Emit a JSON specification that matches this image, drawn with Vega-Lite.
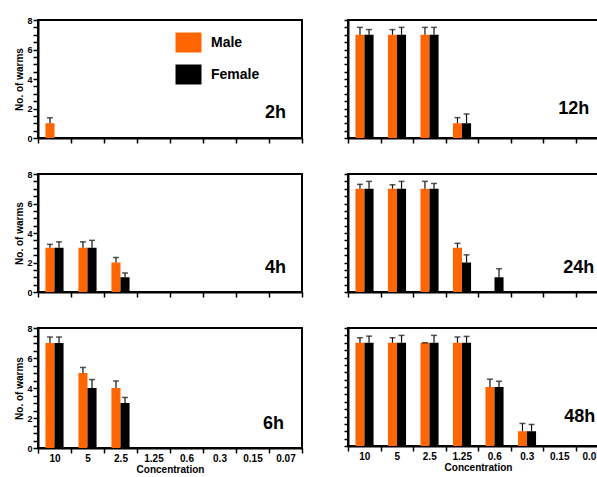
{
  "$schema": "https://vega.github.io/schema/vega-lite/v6.json",
  "background": "white",
  "padding": {"left": 13, "top": 15, "right": 0, "bottom": 0},
  "config": {
    "font": "Liberation Sans",
    "view": {"stroke": "black", "strokeWidth": 2},
    "axis": {"grid": false, "domainColor": "black", "domainWidth": 2, "tickColor": "black", "tickWidth": 1.5,
      "labelFont": "Liberation Sans", "labelFontWeight": "bold", "labelColor": "black",
      "titleFont": "Liberation Sans", "titleFontWeight": "bold", "titleColor": "black", "titleFontSize": 10},
    "legend": {"labelFont": "Liberation Sans", "labelFontWeight": "bold", "labelFontSize": 14, "labelColor": "black"}
  },
  "data": {"values": [
    {"time": "2h", "conc": "10", "sex": "Male", "value": 1, "hi": 1.37},
    {"time": "12h", "conc": "10", "sex": "Male", "value": 7, "hi": 7.5},
    {"time": "12h", "conc": "10", "sex": "Female", "value": 7, "hi": 7.35},
    {"time": "12h", "conc": "5", "sex": "Male", "value": 7, "hi": 7.35},
    {"time": "12h", "conc": "5", "sex": "Female", "value": 7, "hi": 7.5},
    {"time": "12h", "conc": "2.5", "sex": "Male", "value": 7, "hi": 7.5},
    {"time": "12h", "conc": "2.5", "sex": "Female", "value": 7, "hi": 7.5},
    {"time": "12h", "conc": "1.25", "sex": "Male", "value": 1, "hi": 1.38},
    {"time": "12h", "conc": "1.25", "sex": "Female", "value": 1, "hi": 1.63},
    {"time": "4h", "conc": "10", "sex": "Male", "value": 3, "hi": 3.23},
    {"time": "4h", "conc": "10", "sex": "Female", "value": 3, "hi": 3.4},
    {"time": "4h", "conc": "5", "sex": "Male", "value": 3, "hi": 3.4},
    {"time": "4h", "conc": "5", "sex": "Female", "value": 3, "hi": 3.5},
    {"time": "4h", "conc": "2.5", "sex": "Male", "value": 2, "hi": 2.34},
    {"time": "4h", "conc": "2.5", "sex": "Female", "value": 1, "hi": 1.29},
    {"time": "24h", "conc": "10", "sex": "Male", "value": 7, "hi": 7.3},
    {"time": "24h", "conc": "10", "sex": "Female", "value": 7, "hi": 7.5},
    {"time": "24h", "conc": "5", "sex": "Male", "value": 7, "hi": 7.27},
    {"time": "24h", "conc": "5", "sex": "Female", "value": 7, "hi": 7.5},
    {"time": "24h", "conc": "2.5", "sex": "Male", "value": 7, "hi": 7.5},
    {"time": "24h", "conc": "2.5", "sex": "Female", "value": 7, "hi": 7.36},
    {"time": "24h", "conc": "1.25", "sex": "Male", "value": 3, "hi": 3.3},
    {"time": "24h", "conc": "1.25", "sex": "Female", "value": 2, "hi": 2.52},
    {"time": "24h", "conc": "0.6", "sex": "Female", "value": 1, "hi": 1.58},
    {"time": "6h", "conc": "10", "sex": "Male", "value": 7, "hi": 7.4},
    {"time": "6h", "conc": "10", "sex": "Female", "value": 7, "hi": 7.4},
    {"time": "6h", "conc": "5", "sex": "Male", "value": 5, "hi": 5.37},
    {"time": "6h", "conc": "5", "sex": "Female", "value": 4, "hi": 4.56},
    {"time": "6h", "conc": "2.5", "sex": "Male", "value": 4, "hi": 4.47},
    {"time": "6h", "conc": "2.5", "sex": "Female", "value": 3, "hi": 3.37},
    {"time": "48h", "conc": "10", "sex": "Male", "value": 7, "hi": 7.34},
    {"time": "48h", "conc": "10", "sex": "Female", "value": 7, "hi": 7.45},
    {"time": "48h", "conc": "5", "sex": "Male", "value": 7, "hi": 7.34},
    {"time": "48h", "conc": "5", "sex": "Female", "value": 7, "hi": 7.5},
    {"time": "48h", "conc": "2.5", "sex": "Male", "value": 7, "hi": 7},
    {"time": "48h", "conc": "2.5", "sex": "Female", "value": 7, "hi": 7.5},
    {"time": "48h", "conc": "1.25", "sex": "Male", "value": 7, "hi": 7.39},
    {"time": "48h", "conc": "1.25", "sex": "Female", "value": 7, "hi": 7.43},
    {"time": "48h", "conc": "0.6", "sex": "Male", "value": 4, "hi": 4.53},
    {"time": "48h", "conc": "0.6", "sex": "Female", "value": 4, "hi": 4.39},
    {"time": "48h", "conc": "0.3", "sex": "Male", "value": 1, "hi": 1.53},
    {"time": "48h", "conc": "0.3", "sex": "Female", "value": 1, "hi": 1.46}
  ]},
  "columns": 2,
  "align": "each",
  "spacing": {"row": 24, "column": 38},
  "resolve": {"legend": {"color": "independent"}},
  "concat": [
    {
      "width": 264, "height": 118,
      "transform": [{"filter": "datum.time === '2h'"}],
      "layer": [
        {"mark": {"type": "bar"},
         "encoding": {
           "x": {"field": "conc", "type": "nominal", "sort": null, "scale": {"domain": ["10","5","2.5","1.25","0.6","0.3","0.15","0.07"], "paddingInner": 0, "paddingOuter": 0}, "axis": {"title": null, "labels": false, "tickBand": "extent", "tickSize": 5}},
           "xOffset": {"field": "sex", "type": "nominal", "sort": null, "scale": {"domain": ["Male","Female"], "paddingInner": 0, "paddingOuter": 0.82}},
           "y": {"field": "value", "type": "quantitative", "scale": {"domain": [0, 8]}, "axis": {"title": "No. of warms", "values": [0,0.5,1,1.5,2,2.5,3,3.5,4,4.5,5,5.5,6,6.5,7,7.5,8], "labelExpr": "datum.value % 2 === 0 ? format(datum.value, 'd') : ''", "labelOverlap": false, "tickSize": 5, "labelPadding": 1, "labelFontSize": 9, "titlePadding": 2}},
           "color": {"field": "sex", "type": "nominal", "sort": null, "scale": {"domain": ["Male","Female"], "range": ["#FF6600","#000000"]},
             "legend": {"title": null, "orient": "none", "legendX": 140, "legendY": 12, "symbolType": "M-1.3,-1H1.3V1H-1.3Z", "symbolSize": 400, "symbolStrokeWidth": 0.5, "rowPadding": 11, "labelOffset": 12, "padding": 0}}
         }},
        {"mark": {"type": "rule", "color": "#111", "strokeWidth": 1.2},
         "encoding": {
           "x": {"field": "conc", "type": "nominal", "sort": null},
           "xOffset": {"field": "sex", "type": "nominal", "sort": null},
           "y": {"field": "value", "type": "quantitative", "axis": {"title": "No. of warms", "values": [0,0.5,1,1.5,2,2.5,3,3.5,4,4.5,5,5.5,6,6.5,7,7.5,8], "labelExpr": "datum.value % 2 === 0 ? format(datum.value, 'd') : ''", "labelOverlap": false, "tickSize": 5, "labelPadding": 1, "labelFontSize": 9, "titlePadding": 2}},
           "y2": {"field": "hi"}
         }},
        {"mark": {"type": "tick", "color": "#111", "thickness": 1.5, "size": 6},
         "encoding": {
           "x": {"field": "conc", "type": "nominal", "sort": null},
           "xOffset": {"field": "sex", "type": "nominal", "sort": null},
           "y": {"field": "hi", "type": "quantitative", "axis": {"title": "No. of warms", "values": [0,0.5,1,1.5,2,2.5,3,3.5,4,4.5,5,5.5,6,6.5,7,7.5,8], "labelExpr": "datum.value % 2 === 0 ? format(datum.value, 'd') : ''", "labelOverlap": false, "tickSize": 5, "labelPadding": 1, "labelFontSize": 9, "titlePadding": 2}}
         }},
        {"data": {"values": [{"lbl": "2h"}]},
         "mark": {"type": "text", "fontSize": 18, "fontWeight": "bold", "color": "black", "dx": -10},
         "encoding": {"text": {"field": "lbl"}, "x": {"datum": "0.07"}, "y": {"datum": 1.7, "axis": {"title": "No. of warms", "values": [0,0.5,1,1.5,2,2.5,3,3.5,4,4.5,5,5.5,6,6.5,7,7.5,8], "labelExpr": "datum.value % 2 === 0 ? format(datum.value, 'd') : ''", "labelOverlap": false, "tickSize": 5, "labelPadding": 1, "labelFontSize": 9, "titlePadding": 2}}}}
      ]
    },
    {
      "width": 260, "height": 118,
      "transform": [{"filter": "datum.time === '12h'"}],
      "layer": [
        {"mark": {"type": "bar"},
         "encoding": {
           "x": {"field": "conc", "type": "nominal", "sort": null, "scale": {"domain": ["10","5","2.5","1.25","0.6","0.3","0.15","0.07"], "paddingInner": 0, "paddingOuter": 0}, "axis": {"title": null, "labels": false, "tickBand": "extent", "tickSize": 5}},
           "xOffset": {"field": "sex", "type": "nominal", "sort": null, "scale": {"domain": ["Male","Female"], "paddingInner": 0, "paddingOuter": 0.82}},
           "y": {"field": "value", "type": "quantitative", "scale": {"domain": [0, 8]}, "axis": {"title": null, "labels": false, "values": [0,0.5,1,1.5,2,2.5,3,3.5,4,4.5,5,5.5,6,6.5,7,7.5,8], "tickSize": 4}},
           "color": {"field": "sex", "type": "nominal", "sort": null, "scale": {"domain": ["Male","Female"], "range": ["#FF6600","#000000"]}, "legend": null}
         }},
        {"mark": {"type": "rule", "color": "#111", "strokeWidth": 1.2},
         "encoding": {
           "x": {"field": "conc", "type": "nominal", "sort": null},
           "xOffset": {"field": "sex", "type": "nominal", "sort": null},
           "y": {"field": "value", "type": "quantitative", "axis": {"title": null, "labels": false, "values": [0,0.5,1,1.5,2,2.5,3,3.5,4,4.5,5,5.5,6,6.5,7,7.5,8], "tickSize": 4}},
           "y2": {"field": "hi"}
         }},
        {"mark": {"type": "tick", "color": "#111", "thickness": 1.5, "size": 6},
         "encoding": {
           "x": {"field": "conc", "type": "nominal", "sort": null},
           "xOffset": {"field": "sex", "type": "nominal", "sort": null},
           "y": {"field": "hi", "type": "quantitative", "axis": {"title": null, "labels": false, "values": [0,0.5,1,1.5,2,2.5,3,3.5,4,4.5,5,5.5,6,6.5,7,7.5,8], "tickSize": 4}}
         }},
        {"data": {"values": [{"lbl": "12h"}]},
         "mark": {"type": "text", "fontSize": 18, "fontWeight": "bold", "color": "black", "dx": -18},
         "encoding": {"text": {"field": "lbl"}, "x": {"datum": "0.07"}, "y": {"datum": 2.0, "axis": {"title": null, "labels": false, "values": [0,0.5,1,1.5,2,2.5,3,3.5,4,4.5,5,5.5,6,6.5,7,7.5,8], "tickSize": 4}}}}
      ]
    },
    {
      "width": 264, "height": 118,
      "transform": [{"filter": "datum.time === '4h'"}],
      "layer": [
        {"mark": {"type": "bar"},
         "encoding": {
           "x": {"field": "conc", "type": "nominal", "sort": null, "scale": {"domain": ["10","5","2.5","1.25","0.6","0.3","0.15","0.07"], "paddingInner": 0, "paddingOuter": 0}, "axis": {"title": null, "labels": false, "tickBand": "extent", "tickSize": 5}},
           "xOffset": {"field": "sex", "type": "nominal", "sort": null, "scale": {"domain": ["Male","Female"], "paddingInner": 0, "paddingOuter": 0.82}},
           "y": {"field": "value", "type": "quantitative", "scale": {"domain": [0, 8]}, "axis": {"title": "No. of warms", "values": [0,0.5,1,1.5,2,2.5,3,3.5,4,4.5,5,5.5,6,6.5,7,7.5,8], "labelExpr": "datum.value % 2 === 0 ? format(datum.value, 'd') : ''", "labelOverlap": false, "tickSize": 5, "labelPadding": 1, "labelFontSize": 9, "titlePadding": 2}},
           "color": {"field": "sex", "type": "nominal", "sort": null, "scale": {"domain": ["Male","Female"], "range": ["#FF6600","#000000"]}, "legend": null}
         }},
        {"mark": {"type": "rule", "color": "#111", "strokeWidth": 1.2},
         "encoding": {
           "x": {"field": "conc", "type": "nominal", "sort": null},
           "xOffset": {"field": "sex", "type": "nominal", "sort": null},
           "y": {"field": "value", "type": "quantitative", "axis": {"title": "No. of warms", "values": [0,0.5,1,1.5,2,2.5,3,3.5,4,4.5,5,5.5,6,6.5,7,7.5,8], "labelExpr": "datum.value % 2 === 0 ? format(datum.value, 'd') : ''", "labelOverlap": false, "tickSize": 5, "labelPadding": 1, "labelFontSize": 9, "titlePadding": 2}},
           "y2": {"field": "hi"}
         }},
        {"mark": {"type": "tick", "color": "#111", "thickness": 1.5, "size": 6},
         "encoding": {
           "x": {"field": "conc", "type": "nominal", "sort": null},
           "xOffset": {"field": "sex", "type": "nominal", "sort": null},
           "y": {"field": "hi", "type": "quantitative", "axis": {"title": "No. of warms", "values": [0,0.5,1,1.5,2,2.5,3,3.5,4,4.5,5,5.5,6,6.5,7,7.5,8], "labelExpr": "datum.value % 2 === 0 ? format(datum.value, 'd') : ''", "labelOverlap": false, "tickSize": 5, "labelPadding": 1, "labelFontSize": 9, "titlePadding": 2}}
         }},
        {"data": {"values": [{"lbl": "4h"}]},
         "mark": {"type": "text", "fontSize": 18, "fontWeight": "bold", "color": "black", "dx": -10},
         "encoding": {"text": {"field": "lbl"}, "x": {"datum": "0.07"}, "y": {"datum": 1.65, "axis": {"title": "No. of warms", "values": [0,0.5,1,1.5,2,2.5,3,3.5,4,4.5,5,5.5,6,6.5,7,7.5,8], "labelExpr": "datum.value % 2 === 0 ? format(datum.value, 'd') : ''", "labelOverlap": false, "tickSize": 5, "labelPadding": 1, "labelFontSize": 9, "titlePadding": 2}}}}
      ]
    },
    {
      "width": 260, "height": 118,
      "transform": [{"filter": "datum.time === '24h'"}],
      "layer": [
        {"mark": {"type": "bar"},
         "encoding": {
           "x": {"field": "conc", "type": "nominal", "sort": null, "scale": {"domain": ["10","5","2.5","1.25","0.6","0.3","0.15","0.07"], "paddingInner": 0, "paddingOuter": 0}, "axis": {"title": null, "labels": false, "tickBand": "extent", "tickSize": 5}},
           "xOffset": {"field": "sex", "type": "nominal", "sort": null, "scale": {"domain": ["Male","Female"], "paddingInner": 0, "paddingOuter": 0.82}},
           "y": {"field": "value", "type": "quantitative", "scale": {"domain": [0, 8]}, "axis": {"title": null, "labels": false, "values": [0,0.5,1,1.5,2,2.5,3,3.5,4,4.5,5,5.5,6,6.5,7,7.5,8], "tickSize": 4}},
           "color": {"field": "sex", "type": "nominal", "sort": null, "scale": {"domain": ["Male","Female"], "range": ["#FF6600","#000000"]}, "legend": null}
         }},
        {"mark": {"type": "rule", "color": "#111", "strokeWidth": 1.2},
         "encoding": {
           "x": {"field": "conc", "type": "nominal", "sort": null},
           "xOffset": {"field": "sex", "type": "nominal", "sort": null},
           "y": {"field": "value", "type": "quantitative", "axis": {"title": null, "labels": false, "values": [0,0.5,1,1.5,2,2.5,3,3.5,4,4.5,5,5.5,6,6.5,7,7.5,8], "tickSize": 4}},
           "y2": {"field": "hi"}
         }},
        {"mark": {"type": "tick", "color": "#111", "thickness": 1.5, "size": 6},
         "encoding": {
           "x": {"field": "conc", "type": "nominal", "sort": null},
           "xOffset": {"field": "sex", "type": "nominal", "sort": null},
           "y": {"field": "hi", "type": "quantitative", "axis": {"title": null, "labels": false, "values": [0,0.5,1,1.5,2,2.5,3,3.5,4,4.5,5,5.5,6,6.5,7,7.5,8], "tickSize": 4}}
         }},
        {"data": {"values": [{"lbl": "24h"}]},
         "mark": {"type": "text", "fontSize": 18, "fontWeight": "bold", "color": "black", "dx": -13},
         "encoding": {"text": {"field": "lbl"}, "x": {"datum": "0.07"}, "y": {"datum": 1.65, "axis": {"title": null, "labels": false, "values": [0,0.5,1,1.5,2,2.5,3,3.5,4,4.5,5,5.5,6,6.5,7,7.5,8], "tickSize": 4}}}}
      ]
    },
    {
      "width": 264, "height": 120,
      "transform": [{"filter": "datum.time === '6h'"}],
      "layer": [
        {"mark": {"type": "bar"},
         "encoding": {
           "x": {"field": "conc", "type": "nominal", "sort": null, "scale": {"domain": ["10","5","2.5","1.25","0.6","0.3","0.15","0.07"], "paddingInner": 0, "paddingOuter": 0}, "axis": {"title": "Concentration", "labelAngle": 0, "labelFontSize": 10, "tickBand": "extent", "tickSize": 5, "labelPadding": 0, "titlePadding": 1}},
           "xOffset": {"field": "sex", "type": "nominal", "sort": null, "scale": {"domain": ["Male","Female"], "paddingInner": 0, "paddingOuter": 0.82}},
           "y": {"field": "value", "type": "quantitative", "scale": {"domain": [0, 8]}, "axis": {"title": "No. of warms", "values": [0,0.5,1,1.5,2,2.5,3,3.5,4,4.5,5,5.5,6,6.5,7,7.5,8], "labelExpr": "datum.value % 2 === 0 ? format(datum.value, 'd') : ''", "labelOverlap": false, "tickSize": 5, "labelPadding": 1, "labelFontSize": 9, "titlePadding": 2}},
           "color": {"field": "sex", "type": "nominal", "sort": null, "scale": {"domain": ["Male","Female"], "range": ["#FF6600","#000000"]}, "legend": null}
         }},
        {"mark": {"type": "rule", "color": "#111", "strokeWidth": 1.2},
         "encoding": {
           "x": {"field": "conc", "type": "nominal", "sort": null},
           "xOffset": {"field": "sex", "type": "nominal", "sort": null},
           "y": {"field": "value", "type": "quantitative", "axis": {"title": "No. of warms", "values": [0,0.5,1,1.5,2,2.5,3,3.5,4,4.5,5,5.5,6,6.5,7,7.5,8], "labelExpr": "datum.value % 2 === 0 ? format(datum.value, 'd') : ''", "labelOverlap": false, "tickSize": 5, "labelPadding": 1, "labelFontSize": 9, "titlePadding": 2}},
           "y2": {"field": "hi"}
         }},
        {"mark": {"type": "tick", "color": "#111", "thickness": 1.5, "size": 6},
         "encoding": {
           "x": {"field": "conc", "type": "nominal", "sort": null},
           "xOffset": {"field": "sex", "type": "nominal", "sort": null},
           "y": {"field": "hi", "type": "quantitative", "axis": {"title": "No. of warms", "values": [0,0.5,1,1.5,2,2.5,3,3.5,4,4.5,5,5.5,6,6.5,7,7.5,8], "labelExpr": "datum.value % 2 === 0 ? format(datum.value, 'd') : ''", "labelOverlap": false, "tickSize": 5, "labelPadding": 1, "labelFontSize": 9, "titlePadding": 2}}
         }},
        {"data": {"values": [{"lbl": "6h"}]},
         "mark": {"type": "text", "fontSize": 18, "fontWeight": "bold", "color": "black", "dx": -12},
         "encoding": {"text": {"field": "lbl"}, "x": {"datum": "0.07"}, "y": {"datum": 1.6, "axis": {"title": "No. of warms", "values": [0,0.5,1,1.5,2,2.5,3,3.5,4,4.5,5,5.5,6,6.5,7,7.5,8], "labelExpr": "datum.value % 2 === 0 ? format(datum.value, 'd') : ''", "labelOverlap": false, "tickSize": 5, "labelPadding": 1, "labelFontSize": 9, "titlePadding": 2}}}}
      ]
    },
    {
      "width": 260, "height": 118,
      "transform": [{"filter": "datum.time === '48h'"}],
      "layer": [
        {"mark": {"type": "bar"},
         "encoding": {
           "x": {"field": "conc", "type": "nominal", "sort": null, "scale": {"domain": ["10","5","2.5","1.25","0.6","0.3","0.15","0.07"], "paddingInner": 0, "paddingOuter": 0}, "axis": {"title": "Concentration", "labelAngle": 0, "labelFontSize": 10, "tickBand": "extent", "tickSize": 5, "labelPadding": 0, "titlePadding": 1}},
           "xOffset": {"field": "sex", "type": "nominal", "sort": null, "scale": {"domain": ["Male","Female"], "paddingInner": 0, "paddingOuter": 0.82}},
           "y": {"field": "value", "type": "quantitative", "scale": {"domain": [0, 8]}, "axis": {"title": null, "labels": false, "values": [0,0.5,1,1.5,2,2.5,3,3.5,4,4.5,5,5.5,6,6.5,7,7.5,8], "tickSize": 4}},
           "color": {"field": "sex", "type": "nominal", "sort": null, "scale": {"domain": ["Male","Female"], "range": ["#FF6600","#000000"]}, "legend": null}
         }},
        {"mark": {"type": "rule", "color": "#111", "strokeWidth": 1.2},
         "encoding": {
           "x": {"field": "conc", "type": "nominal", "sort": null},
           "xOffset": {"field": "sex", "type": "nominal", "sort": null},
           "y": {"field": "value", "type": "quantitative", "axis": {"title": null, "labels": false, "values": [0,0.5,1,1.5,2,2.5,3,3.5,4,4.5,5,5.5,6,6.5,7,7.5,8], "tickSize": 4}},
           "y2": {"field": "hi"}
         }},
        {"mark": {"type": "tick", "color": "#111", "thickness": 1.5, "size": 6},
         "encoding": {
           "x": {"field": "conc", "type": "nominal", "sort": null},
           "xOffset": {"field": "sex", "type": "nominal", "sort": null},
           "y": {"field": "hi", "type": "quantitative", "axis": {"title": null, "labels": false, "values": [0,0.5,1,1.5,2,2.5,3,3.5,4,4.5,5,5.5,6,6.5,7,7.5,8], "tickSize": 4}}
         }},
        {"data": {"values": [{"lbl": "48h"}]},
         "mark": {"type": "text", "fontSize": 18, "fontWeight": "bold", "color": "black", "dx": -12},
         "encoding": {"text": {"field": "lbl"}, "x": {"datum": "0.07"}, "y": {"datum": 2.0, "axis": {"title": null, "labels": false, "values": [0,0.5,1,1.5,2,2.5,3,3.5,4,4.5,5,5.5,6,6.5,7,7.5,8], "tickSize": 4}}}}
      ]
    }
  ]
}
